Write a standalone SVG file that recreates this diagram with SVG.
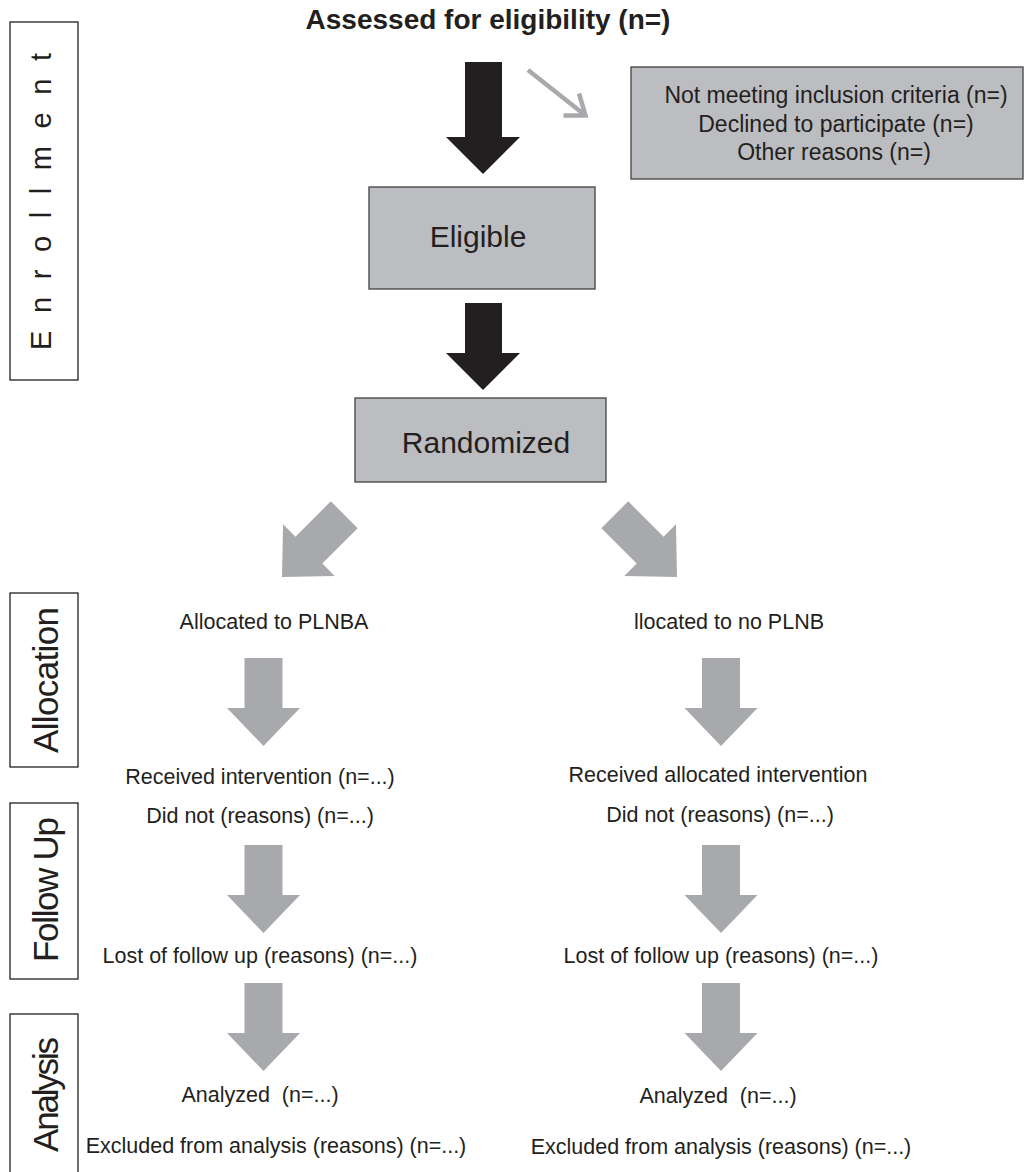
<svg xmlns="http://www.w3.org/2000/svg" xmlns:xlink="http://www.w3.org/1999/xlink" width="1026" height="1172" viewBox="0 0 1026 1172">
<style>
.t{font-family:"Liberation Sans",Arial,sans-serif;fill:#231f20;text-anchor:middle}
.b{font-size:21.5px}
.box{fill:#bcbdc0;stroke:#414042;stroke-width:1.3}
.side{fill:#ffffff;stroke:#231f20;stroke-width:1.3}
.ga{fill:#a7a9ac}
.ba{fill:#231f20}
</style>
<defs>
<path id="garrow" d="M -19,-88 L 19,-88 L 19,-38 L 36.5,-38 L 0,0 L -36.5,-38 L -19,-38 Z"/>
</defs>
<rect width="1026" height="1172" fill="#ffffff"/>

<g id="title">
<text class="t" x="488" y="29" style="font-size:28px;font-weight:bold">Assessed for eligibility (n=)</text>
</g>

<g id="stage-enrollment">
<rect class="side" x="10" y="22" width="68" height="358"/>
<text class="t" transform="translate(51,201.5) rotate(-90)" style="font-size:29px" textLength="297" lengthAdjust="spacing">E n r o l l m e n t</text>
</g>
<g id="stage-allocation">
<rect class="side" x="10" y="593" width="68" height="174"/>
<text class="t" transform="translate(57.5,680) rotate(-90)" style="font-size:35px" textLength="146">Allocation</text>
</g>
<g id="stage-followup">
<rect class="side" x="10" y="803" width="68" height="176"/>
<text class="t" transform="translate(57.5,889.5) rotate(-90)" style="font-size:35px" textLength="145">Follow Up</text>
</g>
<g id="stage-analysis">
<rect class="side" x="10" y="1014" width="68" height="170"/>
<text class="t" transform="translate(57.5,1094.5) rotate(-90)" style="font-size:35px" textLength="115">Analysis</text>
</g>

<g id="excluded">
<rect class="box" x="631" y="67" width="392" height="112"/>
<text class="t" x="836" y="103" style="font-size:23px">Not meeting inclusion criteria (n=)</text>
<text class="t" x="836" y="132" style="font-size:23px">Declined to participate (n=)</text>
<text class="t" x="834" y="160" style="font-size:23px">Other reasons (n=)</text>
</g>

<g id="eligible">
<rect class="box" x="369" y="187" width="226" height="102"/>
<text class="t" x="478" y="247" style="font-size:30px">Eligible</text>
</g>

<g id="randomized">
<rect class="box" x="355" y="398" width="251" height="84"/>
<text class="t" x="486" y="453" style="font-size:30px">Randomized</text>
</g>

<g id="left-arm">
<text class="t b" x="274" y="629">Allocated to PLNBA</text>
<text class="t b" x="260" y="784">Received intervention (n=...)</text>
<text class="t b" x="260" y="823">Did not (reasons) (n=...)</text>
<text class="t b" x="260" y="963">Lost of follow up (reasons) (n=...)</text>
<text class="t b" x="260" y="1102" xml:space="preserve">Analyzed  (n=...)</text>
<text class="t b" x="276" y="1153">Excluded from analysis (reasons) (n=...)</text>
</g>

<g id="right-arm">
<text class="t b" x="729" y="629">llocated to no PLNB</text>
<text class="t b" x="718" y="782">Received allocated intervention</text>
<text class="t b" x="720" y="822">Did not (reasons) (n=...)</text>
<text class="t b" x="721" y="963">Lost of follow up (reasons) (n=...)</text>
<text class="t b" x="718" y="1103" xml:space="preserve">Analyzed  (n=...)</text>
<text class="t b" x="721" y="1154">Excluded from analysis (reasons) (n=...)</text>
</g>

<g id="connectors">
<path class="ba" d="M465,62 L502,62 L502,137 L520,137 L483,174 L446,137 L465,137 Z"/>
<path class="ba" d="M465,303 L502,303 L502,353 L520,353 L483,390 L446,353 L465,353 Z"/>
<line x1="528" y1="70" x2="583" y2="113.5" stroke="#a7a9ac" stroke-width="4.5"/>
<polyline points="563.5,115.5 585.5,115.5 579,93.5" fill="none" stroke="#a7a9ac" stroke-width="4.5" stroke-linejoin="miter"/>
<use xlink:href="#garrow" class="ga" transform="translate(282,577) rotate(45)"/>
<use xlink:href="#garrow" class="ga" transform="translate(677,577) rotate(-45)"/>
<use xlink:href="#garrow" class="ga" transform="translate(263.5,746)"/>
<use xlink:href="#garrow" class="ga" transform="translate(263.5,933)"/>
<use xlink:href="#garrow" class="ga" transform="translate(263.5,1071)"/>
<use xlink:href="#garrow" class="ga" transform="translate(721,746)"/>
<use xlink:href="#garrow" class="ga" transform="translate(721,933)"/>
<use xlink:href="#garrow" class="ga" transform="translate(721,1071)"/>
</g>
</svg>
